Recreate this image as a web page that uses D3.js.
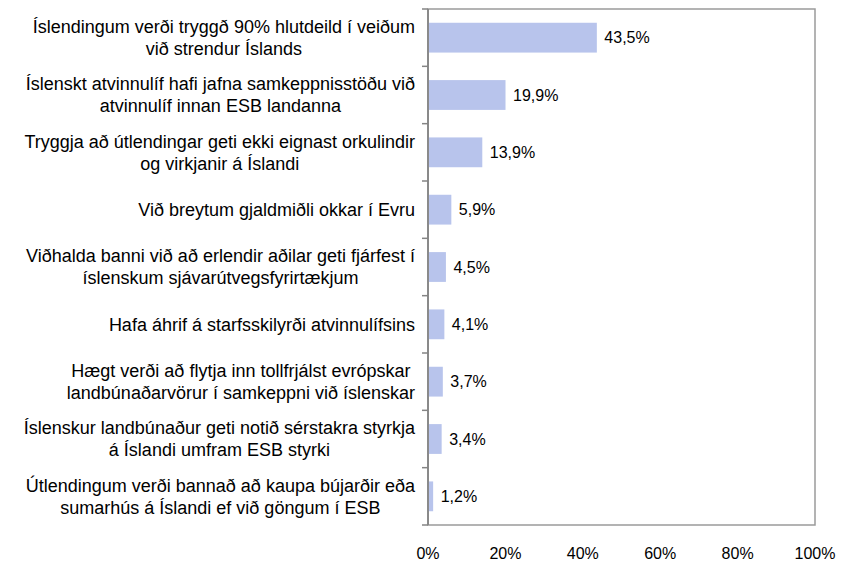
<!DOCTYPE html>
<html><head><meta charset="utf-8">
<script src="https://cdn.jsdelivr.net/npm/d3@7"></script>
<style>
html,body{margin:0;padding:0;background:#fff;}
text{font-family:"Liberation Sans",Arial,sans-serif;fill:#000;}
</style></head>
<body><svg id="c" width="849" height="563"></svg>
<script>
const categories = [
  ["Íslendingum verði tryggð 90% hlutdeild í veiðum", "við strendur Íslands"],
  ["Íslenskt atvinnulíf hafi jafna samkeppnisstöðu við", "atvinnulíf innan ESB landanna"],
  ["Tryggja að útlendingar geti ekki eignast orkulindir", "og virkjanir á Íslandi"],
  ["Við breytum gjaldmiðli okkar í Evru"],
  ["Viðhalda banni við að erlendir aðilar geti fjárfest í", "íslenskum sjávarútvegsfyrirtækjum"],
  ["Hafa áhrif á starfsskilyrði atvinnulífsins"],
  ["Hægt verði að flytja inn tollfrjálst evrópskar", "landbúnaðarvörur í samkeppni við íslenskar"],
  ["Íslenskur landbúnaður geti notið sérstakra styrkja", "á Íslandi umfram ESB styrki"],
  ["Útlendingum verði bannað að kaupa bújarðir eða", "sumarhús á Íslandi ef við göngum í ESB"]
];
const values = [43.5, 19.9, 13.9, 5.9, 4.5, 4.1, 3.7, 3.4, 1.2];
const valueLabels = ["43,5%", "19,9%", "13,9%", "5,9%", "4,5%", "4,1%", "3,7%", "3,4%", "1,2%"];
const tickValues = [0, 20, 40, 60, 80, 100];
const tickLabels = ["0%", "20%", "40%", "60%", "80%", "100%"];

const svg = d3.select("#c");
const L = 428, R = 815, T = 9, B = 525;
const x = d3.scaleLinear().domain([0, 100]).range([L, R]);
const y = d3.scaleBand().domain(d3.range(categories.length)).range([T, B]).paddingInner(0.48).paddingOuter(0.24);
const band = d3.scaleBand().domain(d3.range(categories.length)).range([T, B]);

// frame
svg.append("rect").attr("x", L).attr("y", T).attr("width", R - L).attr("height", B - T)
  .attr("fill", "none").attr("stroke", "#9a9a9a").attr("stroke-width", 1.5);

// bars
svg.selectAll(".bar").data(values).join("rect")
  .attr("x", L + 0.5).attr("y", (d, i) => y(i))
  .attr("width", d => x(d) - L).attr("height", y.bandwidth())
  .attr("fill", "#b8c4ec");

// left axis line + ticks at boundaries
const bounds = d3.range(categories.length + 1).map(i => i < categories.length ? band(i) : B);
svg.append("line").attr("x1", L).attr("x2", L).attr("y1", T).attr("y2", B)
  .attr("stroke", "#858585").attr("stroke-width", 1.8);
svg.selectAll(".tk").data(bounds).join("line")
  .attr("x1", L - 6).attr("x2", L).attr("y1", d => d).attr("y2", d => d)
  .attr("stroke", "#858585").attr("stroke-width", 1.5);

// value labels
svg.selectAll(".vl").data(values).join("text")
  .attr("x", d => x(d) + 8).attr("y", (d, i) => y(i) + y.bandwidth() / 2)
  .attr("dy", "0.35em").attr("font-size", 16).text((d, i) => valueLabels[i]);

// category labels
const lineH = 22;
categories.forEach((lines, i) => {
  const cy = band(i) + band.bandwidth() / 2;
  const g = svg.append("g");
  const ts = g.selectAll("text").data(lines).join("text")
    .attr("font-size", 18).attr("text-anchor", "middle")
    .attr("y", (d, j) => cy + (j - (lines.length - 1) / 2) * lineH)
    .attr("dy", "0.35em").text(d => d);
  let maxW = 0;
  ts.each(function() { maxW = Math.max(maxW, this.getComputedTextLength()); });
  ts.attr("x", 415 - maxW / 2);
});

// x tick labels
svg.selectAll(".xl").data(tickValues).join("text")
  .attr("x", d => x(d)).attr("y", 553).attr("dy", "0.35em")
  .attr("text-anchor", "middle").attr("font-size", 16)
  .text((d, i) => tickLabels[i]);
</script></body></html>
